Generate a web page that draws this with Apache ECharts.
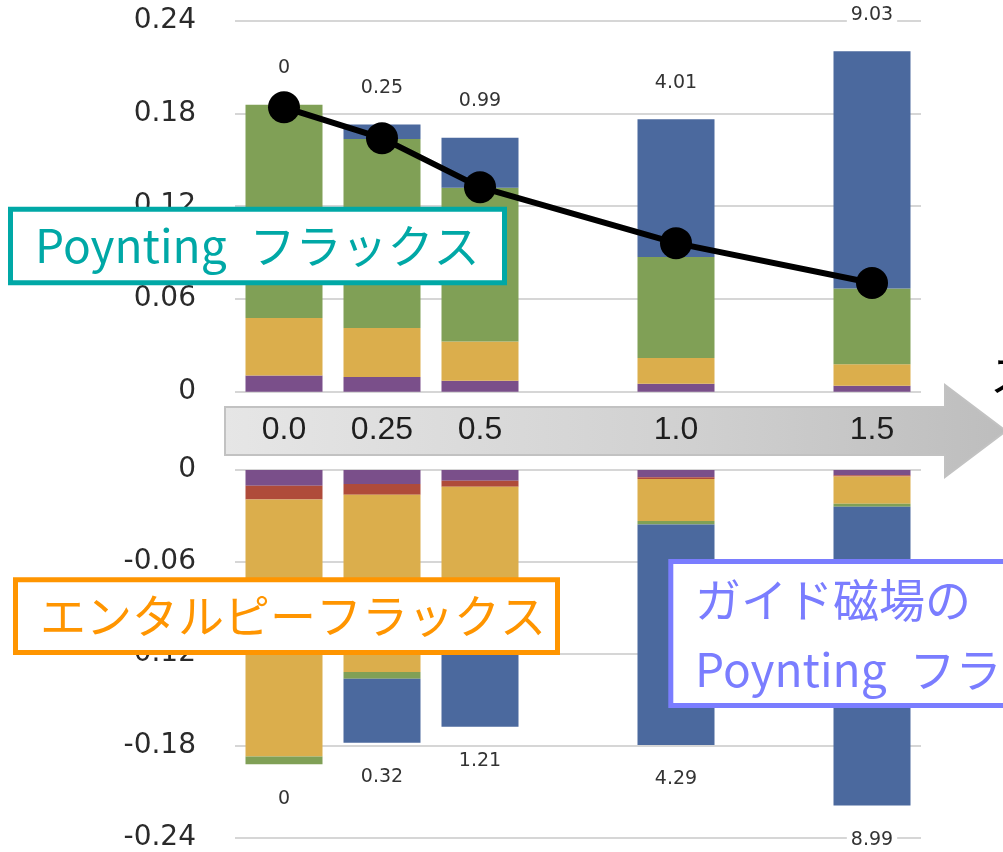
<!DOCTYPE html>
<html>
<head>
<meta charset="utf-8">
<script src="https://cdn.jsdelivr.net/npm/echarts@6/dist/echarts.min.js"></script>
<style>
  html, body { margin: 0; padding: 0; background: #ffffff; }
  #chart { width: 1003px; height: 852px; }
</style>
</head>
<body>
<div id="chart"></div>
<script>
// Positions along the flow (shared by both panels) and their printed labels
const positions = [0, 0.25, 0.5, 1.0, 1.5];
const positionLabels = ['0.0', '0.25', '0.5', '1.0', '1.5'];
const positionStep = 0.25;   // spacing of the evenly spaced slots on the axis

// Numbers printed above / below each stacked column
const upperTopLabels = ['0', '0.25', '0.99', '4.01', '9.03'];
const lowerBottomLabels = ['0', '0.32', '1.21', '4.29', '8.99'];

// Upper panel (positive) stacked components
const upperPurple = [0.0105, 0.0095, 0.0071, 0.0052, 0.0039];
const upperYellow = [0.0371, 0.0317, 0.0254, 0.0166, 0.0138];
const upperGreen  = [0.1380, 0.1222, 0.0995, 0.0653, 0.0491];
const upperBlue   = [0.0000, 0.0095, 0.0323, 0.0892, 0.1535];

// Poynting flux curve
const poyntingFlux = [0.184, 0.164, 0.1323, 0.0961, 0.0703];

// Lower panel (negative) stacked components
const lowerPurple = [-0.0102, -0.0091, -0.0070, -0.0048, -0.0035];
const lowerRed    = [-0.0091, -0.0070, -0.0039, -0.0010, -0.0008];
const lowerYellow = [-0.1677, -0.1157, -0.0920, -0.0275, -0.0177];
const lowerGreen  = [-0.0050, -0.0044, -0.0040, -0.0022, -0.0020];
const lowerBlue   = [ 0.0000, -0.0418, -0.0607, -0.1440, -0.1950];

// Y tick values for each panel
const upperTicks = { min: 0, max: 0.24, step: 0.06 };
const lowerTicks = { min: -0.24, max: 0, step: 0.06 };

const COLORS = {
  purple: '#7A4F8A',
  red: '#AF4B3A',
  yellow: '#DBAE4C',
  green: '#80A056',
  blue: '#4B699E'
};

// Evenly spaced slots; positions without a column stay empty
const slotOf = positions.map(p => Math.round(p / positionStep));
const slotCount = slotOf[slotOf.length - 1] + 1;
const categories = Array.from({ length: slotCount }, () => '');
slotOf.forEach((s, i) => { categories[s] = positionLabels[i]; });

// Spread a per-column array onto the slots (null where there is no column)
const toSlots = arr => {
  const out = Array.from({ length: slotCount }, () => null);
  slotOf.forEach((s, i) => { out[s] = arr[i]; });
  return out;
};
const columnIndexOfSlot = slot => slotOf.indexOf(slot);

const tickFmt = v => {
  if (Math.abs(v) < 1e-9) return '0';
  return v.toFixed(2);
};

const barBase = (name, color, data, stack, gridIdx) => ({
  name: name,
  type: 'bar',
  stack: stack,
  xAxisIndex: gridIdx,
  yAxisIndex: gridIdx,
  barWidth: 77,
  itemStyle: { color: color },
  emphasis: { disabled: true },
  data: toSlots(data)
});

const valueLabel = {
  show: true,
  fontFamily: 'DejaVu Sans',
  fontSize: 19,
  color: '#333333',
  backgroundColor: '#ffffff',
  padding: [1, 4]
};

const upBlue = barBase('upper-blue', COLORS.blue, upperBlue, 'up', 0);
upBlue.label = Object.assign({}, valueLabel, {
  position: 'top',
  distance: 26,
  formatter: p => upperTopLabels[columnIndexOfSlot(p.dataIndex)]
});

const downBlue = barBase('lower-blue', COLORS.blue, lowerBlue, 'down', 1);
downBlue.label = Object.assign({}, valueLabel, {
  position: 'bottom',
  distance: 24,
  formatter: p => lowerBottomLabels[columnIndexOfSlot(p.dataIndex)]
});

const yAxisCommon = {
  type: 'value',
  axisLine: { show: false },
  axisTick: { show: false },
  axisLabel: {
    margin: 39,
    fontFamily: 'DejaVu Sans',
    fontSize: 28,
    color: '#2a2a2a',
    formatter: tickFmt
  },
  splitLine: { lineStyle: { color: '#c8c8c8', width: 1.5 } }
};

const chart = echarts.init(document.getElementById('chart'), null, { renderer: 'canvas' });

chart.setOption({
  backgroundColor: '#ffffff',
  animation: false,
  grid: [
    { left: 235, width: 686, top: 20.7, height: 371 },
    { left: 235, width: 686, top: 470, height: 367.7 }
  ],
  xAxis: [
    {
      type: 'category', gridIndex: 0, data: categories, z: 10,
      axisLine: { show: false }, axisTick: { show: false }, splitLine: { show: false },
      axisLabel: {
        interval: 0,
        margin: 22,
        fontFamily: 'Liberation Sans',
        fontSize: 32,
        color: '#1e1e1e'
      }
    },
    {
      type: 'category', gridIndex: 1, data: categories, show: false
    }
  ],
  yAxis: [
    Object.assign({}, yAxisCommon, {
      gridIndex: 0, min: upperTicks.min, max: upperTicks.max, interval: upperTicks.step
    }),
    Object.assign({}, yAxisCommon, {
      gridIndex: 1, min: lowerTicks.min, max: lowerTicks.max, interval: lowerTicks.step
    })
  ],
  series: [
    barBase('upper-purple', COLORS.purple, upperPurple, 'up', 0),
    barBase('upper-yellow', COLORS.yellow, upperYellow, 'up', 0),
    barBase('upper-green', COLORS.green, upperGreen, 'up', 0),
    upBlue,
    barBase('lower-purple', COLORS.purple, lowerPurple, 'down', 1),
    barBase('lower-red', COLORS.red, lowerRed, 'down', 1),
    barBase('lower-yellow', COLORS.yellow, lowerYellow, 'down', 1),
    barBase('lower-green', COLORS.green, lowerGreen, 'down', 1),
    downBlue,
    {
      name: 'Poynting',
      type: 'line',
      xAxisIndex: 0,
      yAxisIndex: 0,
      z: 5,
      connectNulls: true,
      symbol: 'circle',
      symbolSize: 32,
      lineStyle: { color: '#000000', width: 6 },
      itemStyle: { color: '#000000' },
      emphasis: { disabled: true },
      data: toSlots(poyntingFlux)
    }
  ],
  graphic: [
    // flow-direction arrow behind the position labels
    {
      type: 'polygon',
      z: 1,
      shape: {
        points: [[225, 407], [945, 407], [945, 385], [1006, 431], [945, 477], [945, 455], [225, 455]]
      },
      style: {
        fill: {
          type: 'linear', x: 0, y: 0, x2: 1, y2: 0,
          colorStops: [
            { offset: 0, color: '#e6e6e6' },
            { offset: 0.6, color: '#d0d0d0' },
            { offset: 1, color: '#bdbdbd' }
          ]
        },
        stroke: '#c2c2c2',
        lineWidth: 2
      }
    },
    // partially visible axis caption at the arrow tip
    {
      type: 'text', z: 50,
      style: {
        x: 990, y: 375, text: 'ス',
        fill: '#000000',
        font: '44px "Noto Sans CJK JP"',
        verticalAlign: 'middle'
      }
    },
    // Poynting flux callout
    {
      type: 'rect', z: 50,
      shape: { x: 10.5, y: 209.2, width: 494, height: 73.5 },
      style: { fill: '#ffffff', stroke: '#00A8A6', lineWidth: 5 }
    },
    {
      type: 'text', z: 51,
      style: {
        x: 35, y: 246, text: 'Poynting\u2002フラックス',
        fill: '#00A8A6',
        font: '46px "Noto Sans CJK JP"',
        verticalAlign: 'middle'
      }
    },
    // enthalpy flux callout
    {
      type: 'rect', z: 50,
      shape: { x: 15.5, y: 579.8, width: 542, height: 72.7 },
      style: { fill: '#ffffff', stroke: '#FF9500', lineWidth: 5 }
    },
    {
      type: 'text', z: 51,
      style: {
        x: 40, y: 616, text: 'エンタルピーフラックス',
        fill: '#FF9500',
        font: '46px "Noto Sans CJK JP"',
        verticalAlign: 'middle'
      }
    },
    // guide-field Poynting flux callout
    {
      type: 'rect', z: 50,
      shape: { x: 670.8, y: 561.5, width: 420, height: 144 },
      style: { fill: '#ffffff', stroke: '#7A7DFF', lineWidth: 5 }
    },
    {
      type: 'text', z: 51,
      style: {
        x: 695, y: 634.5, text: 'ガイド磁場の\nPoynting\u2002フラックス',
        fill: '#7A7DFF',
        font: '46px "Noto Sans CJK JP"',
        lineHeight: 70,
        verticalAlign: 'middle'
      }
    }
  ]
});
</script>
</body>
</html>
